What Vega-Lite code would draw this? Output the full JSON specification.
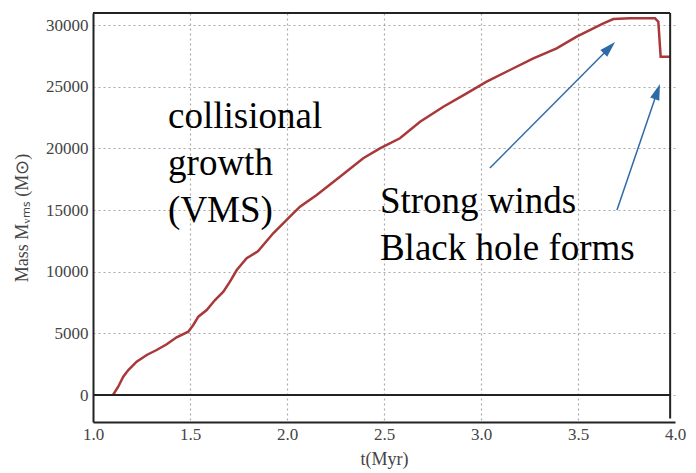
{
  "$schema": "https://vega.github.io/schema/vega-lite/v6.json",
  "autosize": "none",
  "width": 582,
  "height": 409,
  "padding": {"left": 93, "top": 13, "right": 21, "bottom": 51},
  "background": "white",
  "config": {
    "view": {"stroke": null},
    "axis": {
      "labelFont": "Liberation Serif",
      "titleFont": "Liberation Serif",
      "labelColor": "#444",
      "titleColor": "#444",
      "labelFontSize": 17,
      "titleFontSize": 18,
      "titleFontWeight": "normal",
      "ticks": false,
      "domainColor": "#222",
      "domainWidth": 2,
      "gridDash": [2, 3],
      "gridWidth": 1.2
    }
  },
  "datasets": {
    "mass": [
      {"t": 1.103, "m": 0},
      {"t": 1.130, "m": 673},
      {"t": 1.156, "m": 1484},
      {"t": 1.182, "m": 2027},
      {"t": 1.225, "m": 2700},
      {"t": 1.277, "m": 3243},
      {"t": 1.328, "m": 3649},
      {"t": 1.380, "m": 4111},
      {"t": 1.431, "m": 4678},
      {"t": 1.491, "m": 5132},
      {"t": 1.517, "m": 5676},
      {"t": 1.543, "m": 6348},
      {"t": 1.586, "m": 6892},
      {"t": 1.629, "m": 7703},
      {"t": 1.672, "m": 8376},
      {"t": 1.706, "m": 9186},
      {"t": 1.741, "m": 10135},
      {"t": 1.792, "m": 11084},
      {"t": 1.850, "m": 11650},
      {"t": 1.929, "m": 13111},
      {"t": 2.015, "m": 14457},
      {"t": 2.067, "m": 15268},
      {"t": 2.153, "m": 16216},
      {"t": 2.273, "m": 17700},
      {"t": 2.393, "m": 19192},
      {"t": 2.479, "m": 20002},
      {"t": 2.582, "m": 20813},
      {"t": 2.686, "m": 22159},
      {"t": 2.806, "m": 23375},
      {"t": 2.926, "m": 24462},
      {"t": 3.029, "m": 25403},
      {"t": 3.149, "m": 26351},
      {"t": 3.270, "m": 27300},
      {"t": 3.390, "m": 28111},
      {"t": 3.493, "m": 29051},
      {"t": 3.579, "m": 29732},
      {"t": 3.631, "m": 30138},
      {"t": 3.682, "m": 30486},
      {"t": 3.768, "m": 30543},
      {"t": 3.897, "m": 30543},
      {"t": 3.914, "m": 30267},
      {"t": 3.926, "m": 27430},
      {"t": 3.974, "m": 27430}
    ],
    "frame": [
      {"x": 1.0, "y": 0, "x2": 3.975, "y2": 0, "w": 2},
      {"x": 1.0, "y": 30973, "x2": 3.975, "y2": 30973, "w": 2},
      {"x": 3.975, "y": -1900, "x2": 3.975, "y2": 30973, "w": 2}
    ],
    "labels": [
      {"x": 1.387, "y": 21648, "text": "collisional\ngrowth\n(VMS)"},
      {"x": 2.479, "y": 14757, "text": "Strong winds\nBlack hole forms"}
    ],
    "arrows": [
      {"x": 3.046, "y": 18405, "x2": 3.662, "y2": 28159, "angle": 45},
      {"x": 3.701, "y": 15000, "x2": 3.909, "y2": 24600, "angle": 19}
    ]
  },
  "layer": [
    {
      "data": {"name": "mass"},
      "mark": {"type": "line", "color": "#a8383a", "strokeWidth": 2.5, "interpolate": "linear"},
      "encoding": {
        "x": {
          "field": "t", "type": "quantitative",
          "scale": {"domain": [1.0, 4.0], "nice": false, "zero": false},
          "axis": {
            "title": "t(Myr)",
            "values": [1.0, 1.5, 2.0, 2.5, 3.0, 3.5, 4.0],
            "format": ".1f",
            "labelPadding": 4,
            "titlePadding": 8,
            "grid": true,
            "gridColor": {"condition": {"test": "datum.value >= 3.99 || datum.value <= 1.01", "value": "transparent"}, "value": "#aaa"},
            "labelFlush": false
          }
        },
        "y": {
          "field": "m", "type": "quantitative",
          "scale": {"domain": [-2189, 30973], "nice": false, "zero": false},
          "axis": {
            "title": "Mass Mᵥₘₛ (M⊙)",
            "values": [0, 5000, 10000, 15000, 20000, 25000, 30000],
            "format": "d",
            "labelPadding": 5,
            "titlePadding": 14,
            "grid": true,
            "gridColor": "#aaa"
          }
        }
      }
    },
    {
      "data": {"name": "frame"},
      "mark": {"type": "rule", "color": "#222", "strokeWidth": 2},
      "encoding": {
        "x": {"field": "x", "type": "quantitative"},
        "y": {"field": "y", "type": "quantitative"},
        "x2": {"field": "x2"},
        "y2": {"field": "y2"}
      }
    },
    {
      "data": {"name": "arrows"},
      "mark": {"type": "rule", "color": "#2f6aa8", "strokeWidth": 1.5},
      "encoding": {
        "x": {"field": "x", "type": "quantitative"},
        "y": {"field": "y", "type": "quantitative"},
        "x2": {"field": "x2"},
        "y2": {"field": "y2"}
      }
    },
    {
      "data": {"name": "arrows"},
      "mark": {"type": "point", "shape": "M0,-1L0.6,1L-0.6,1Z", "filled": true, "color": "#2f6aa8", "opacity": 1, "size": 256},
      "encoding": {
        "x": {"field": "x2", "type": "quantitative"},
        "y": {"field": "y2", "type": "quantitative"},
        "angle": {"field": "angle", "type": "quantitative", "scale": null}
      }
    },
    {
      "data": {"name": "labels"},
      "mark": {"type": "text", "font": "Liberation Serif", "fontSize": 37, "color": "black", "align": "left", "baseline": "alphabetic", "lineHeight": 47, "lineBreak": "\n"},
      "encoding": {
        "x": {"field": "x", "type": "quantitative"},
        "y": {"field": "y", "type": "quantitative"},
        "text": {"field": "text"}
      }
    }
  ]
}
